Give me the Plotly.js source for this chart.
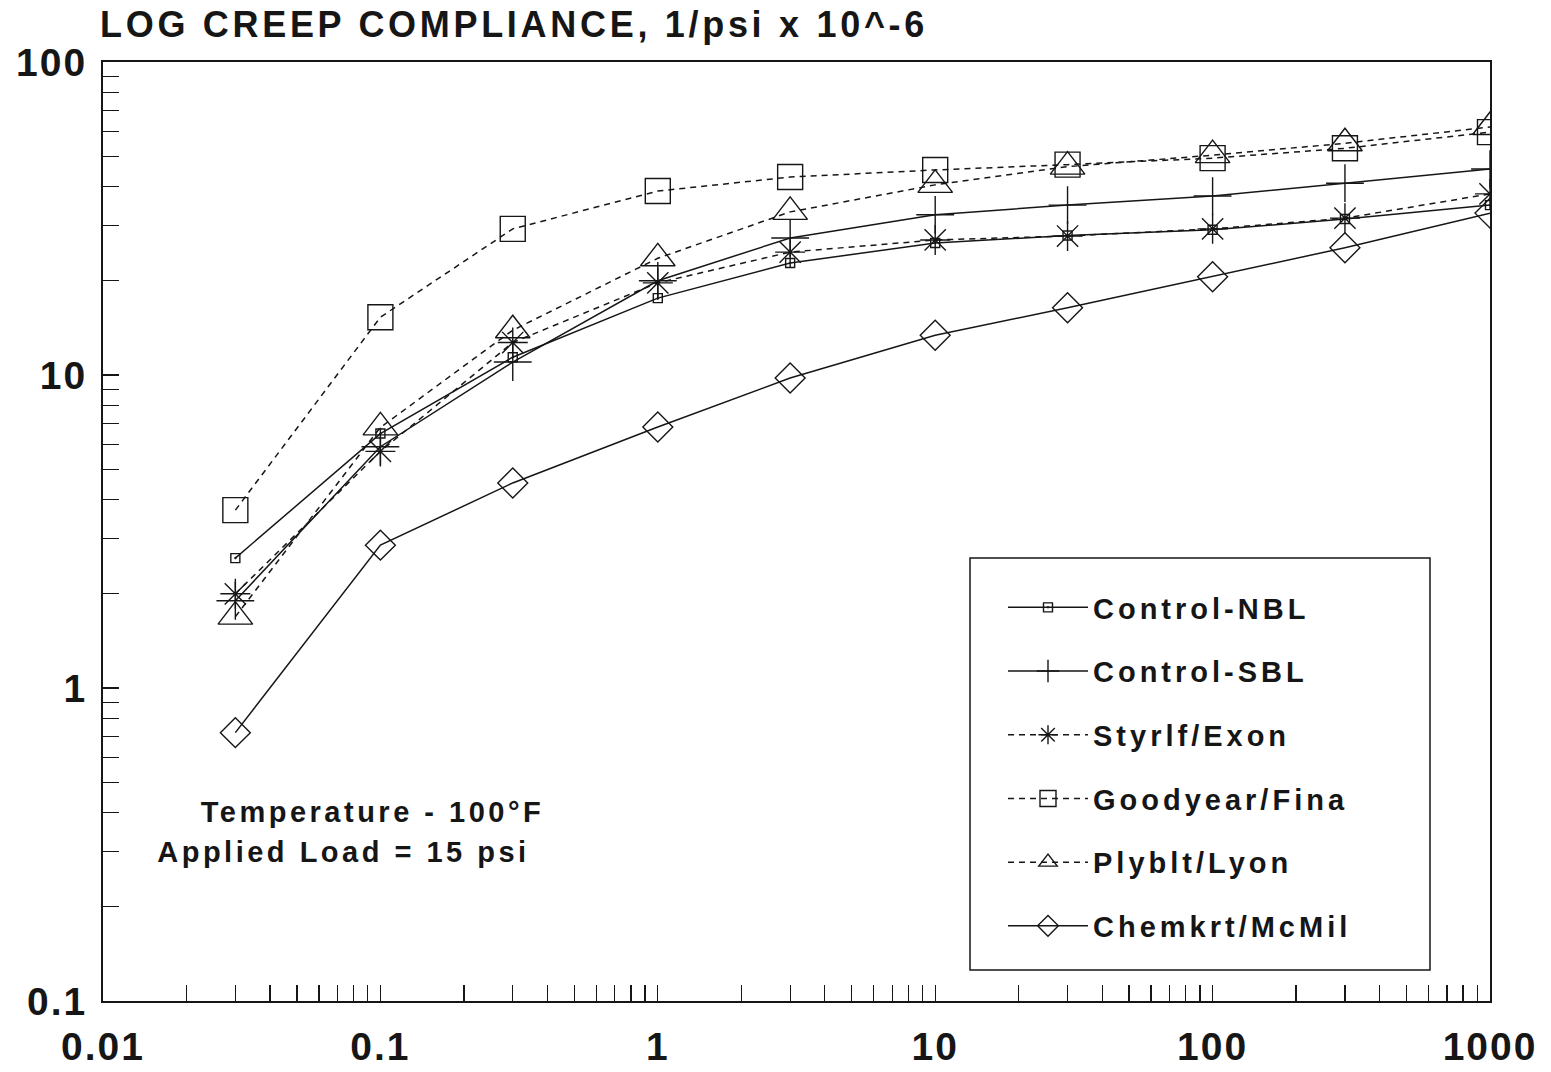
<!DOCTYPE html>
<html>
<head>
<meta charset="utf-8">
<script src="https://cdn.plot.ly/plotly-3.0.1.min.js"></script>
<style>
  html, body { margin: 0; padding: 0; background: #fff; }
  #chart { width: 1551px; height: 1072px; }
  text.gtitle { letter-spacing: 3.7px; }
  text.legendtext { letter-spacing: 4px; }
  g.annotation-text-g text { letter-spacing: 3.5px; }
  g.xtick text, g.ytick text { letter-spacing: 2px; }
</style>
</head>
<body>
<div id="chart"></div>
<script>
// Loading time (x) and creep compliance values (1/psi x 10^-6)
const times = [0.03, 0.1, 0.3, 1, 3, 10, 30, 100, 300, 1000];

const controlNBL   = [2.6, 6.5, 11.4, 17.6, 22.8, 26.4, 27.9, 29.1, 31.5, 34.9];
const controlSBL   = [1.9, 5.9, 11.0, 20.0, 27.4, 32.5, 34.9, 37.3, 41.0, 45.5];
const styrlfExon   = [2.0, 5.7, 12.7, 19.7, 24.7, 27.0, 27.8, 29.3, 31.7, 37.9];
const goodyearFina = [3.7, 15.3, 29.3, 38.7, 42.9, 45.2, 47.0, 49.3, 53.0, 59.7];
const plybltLyon   = [1.69, 6.8, 13.9, 23.6, 33.2, 40.5, 46.3, 50.4, 55.0, 62.0];
const chemkrtMcMil = [0.72, 2.86, 4.52, 6.82, 9.78, 13.4, 16.4, 20.6, 25.5, 32.9];

const seriesNames = ["Control-NBL", "Control-SBL", "Styrlf/Exon", "Goodyear/Fina", "Plyblt/Lyon", "Chemkrt/McMil"];

const xTickVals = [0.01, 0.1, 1, 10, 100, 1000];
const xTickText = ["0.01", "0.1", "1", "10", "100", "1000"];
const yTickVals = [0.1, 1, 10, 100];
const yTickText = ["0.1", "1", "10", "100"];

const titleText = "LOG CREEP COMPLIANCE, 1/psi x 10^-6";
const noteLine1 = "Temperature - 100°F";
const noteLine2 = "Applied Load = 15 psi";

const ink = "#161616";
const FONT = "Liberation Sans, Arial, Helvetica, sans-serif";

const styles = [
  { data: controlNBL,   dash: "solid",   symbol: "square-open-dot",  size: 9 },
  { data: controlSBL,   dash: "solid",   symbol: "cross-thin-open",  size: 27 },
  { data: styrlfExon,   dash: "6px,5px", symbol: "asterisk-open",    size: 25 },
  { data: goodyearFina, dash: "6px,5px", symbol: "square-open",      size: 25 },
  { data: plybltLyon,   dash: "6px,5px", symbol: "triangle-up-open", size: 30 },
  { data: chemkrtMcMil, dash: "solid",   symbol: "diamond-open",     size: 23 }
];

const traces = styles.map((s, i) => ({
  type: "scatter",
  mode: "lines+markers",
  name: seriesNames[i],
  legendgroup: "g" + i,
  x: times,
  y: s.data,
  line: { color: ink, width: 1.5, dash: s.dash },
  marker: { symbol: s.symbol, size: s.size, color: ink, line: { color: ink, width: 1.4 } }
}));

const axisCommon = {
  type: "log",
  showline: true,
  linewidth: 2,
  linecolor: ink,
  mirror: true,
  showgrid: false,
  zeroline: false,
  ticks: "inside",
  ticklen: 16,
  tickwidth: 1.3,
  tickcolor: ink,
  tickmode: "array",
  tickfont: { family: FONT, size: 39, color: ink, weight: "bold" },
  minor: { ticks: "inside", ticklen: 16, tickwidth: 1.3, tickcolor: ink, dtick: "D1", showgrid: false }
};

// pixel -> plot-area fractions
const px = v => (v - 103) / 1387;
const py = v => (1001 - v) / 939;

const layout = {
  width: 1551,
  height: 1072,
  paper_bgcolor: "#ffffff",
  plot_bgcolor: "#ffffff",
  margin: { l: 103, r: 61, t: 62, b: 71 },
  showlegend: true,
  font: { family: FONT, color: ink },
  title: {
    text: titleText,
    font: { family: FONT, size: 36, color: ink, weight: "bold" },
    x: 100 / 1551, xref: "container", xanchor: "left",
    y: 1 - 12 / 1072, yref: "container", yanchor: "top"
  },
  xaxis: Object.assign({}, axisCommon, {
    range: [-2, 3],
    tickvals: xTickVals,
    ticktext: xTickText,
    ticklabelstandoff: 10
  }),
  yaxis: Object.assign({}, axisCommon, {
    range: [-1, 2],
    tickvals: yTickVals,
    ticktext: yTickText,
    ticklabelstandoff: 6
  }),
  legend: {
    x: px(1003), xanchor: "left",
    y: py(582), yanchor: "top",
    bgcolor: "rgba(0,0,0,0)",
    borderwidth: 0,
    font: { family: FONT, size: 29, color: ink, weight: "bold" },
    traceorder: "grouped",
    tracegroupgap: 23,
    itemwidth: 80
  },
  shapes: [
    { type: "rect", xref: "paper", yref: "paper", layer: "above",
      x0: px(970), x1: px(1430), y0: py(970), y1: py(558),
      fillcolor: "#ffffff", line: { color: ink, width: 1.5 } }
  ],
  annotations: [
    { text: noteLine1, xref: "paper", yref: "paper", x: px(372), y: py(812),
      xanchor: "center", yanchor: "middle", showarrow: false,
      font: { family: FONT, size: 29, color: ink, weight: "bold" } },
    { text: noteLine2, xref: "paper", yref: "paper", x: px(343), y: py(852),
      xanchor: "center", yanchor: "middle", showarrow: false,
      font: { family: FONT, size: 29, color: ink, weight: "bold" } }
  ]
};

Plotly.newPlot("chart", traces, layout, { displayModeBar: false, staticPlot: true });
</script>
</body>
</html>
